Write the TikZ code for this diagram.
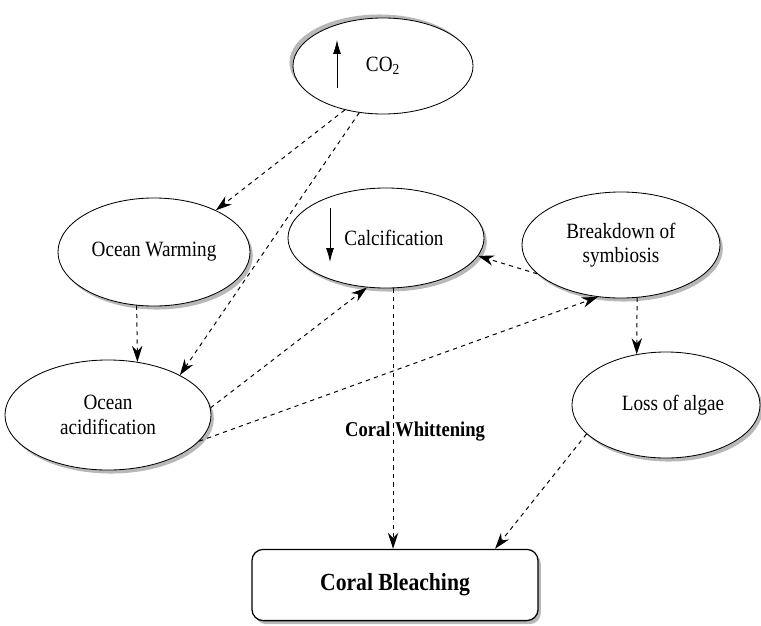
\documentclass[tikz,border=0pt]{standalone}
\usepackage{fontspec}
\setmainfont[FakeStretch=0.88]{Liberation Serif}
\usetikzlibrary{shapes,arrows.meta,shadows}

\begin{document}
\begin{tikzpicture}[x=0.025cm, y=-0.025cm,
    bubble/.style={ellipse, draw, fill=white, line width=0.6pt, align=center, inner sep=0pt, font=\fontsize{15.5}{17.5}\selectfont},
    lowshadow/.style={drop shadow={shadow xshift=2pt, shadow yshift=-2.5pt, fill=black!28, opacity=1}},
    topshadow/.style={drop shadow={shadow xshift=-2.5pt, shadow yshift=2.5pt, fill=black!28, opacity=1}},
    box/.style={rectangle, draw, fill=white, rounded corners=8pt, line width=0.9pt, minimum width=7.15cm, minimum height=1.78cm, font=\bfseries\fontsize{17.5}{20}\selectfont},
    link/.style={-{Stealth[length=4mm, width=2.6mm]}, dashed, line width=0.7pt},
    trend/.style={-{Latex[length=3.5mm, width=2mm]}, line width=0.6pt}]

    \useasboundingbox (0,0) rectangle (761,625);

    % Driver at the top
    \node[bubble, topshadow, minimum width=4.5cm, minimum height=2.4cm] (co2) at (383,66) {CO\textsubscript{2}};
    \draw[trend] ([xshift=-1.15cm, yshift=-0.55cm]co2.center) -- ++(0,1.2cm);

    % Middle row
    \node[bubble, lowshadow, minimum width=4.8cm, minimum height=2.7cm] (warm) at (154,252) {Ocean Warming};
    \node[bubble, lowshadow, minimum width=4.9cm, minimum height=2.5cm] (calc) at (386,238) {\hspace*{0.4cm}Calcification};
    \draw[trend] ([xshift=-1.4cm, yshift=0.75cm]calc.center) -- ++(0,-1.35cm);
    \node[bubble, lowshadow, minimum width=4.95cm, minimum height=2.65cm] (symb) at (621,245) {Breakdown of\\symbiosis};

    % Lower row
    \node[bubble, lowshadow, minimum width=5.15cm, minimum height=2.75cm] (acid) at (108,415) {Ocean\\acidification};
    \node[bubble, lowshadow, minimum width=4.7cm, minimum height=2.65cm] (algae) at (666,405) {\hspace*{0.35cm}Loss of algae};

    % Outcome
    \node[box, lowshadow] (bleach) at (395,585) {Coral Bleaching};

    % Arrows
    \draw[link] (co2.229) -- (warm.34);
    \draw[link] (co2.243) -- (acid.29);
    \draw[link] (warm.252) -- (acid.61);
    \draw[link] (acid.4) -- (calc.249);
    \draw[link] (acid.344) -- (symb.246);
    \draw[link] (symb.199) -- (calc.349);
    \draw[link] (symb.287) -- (algae.120);
    \draw[link] (calc.278) -- (calc.278 |- bleach.north)
        node[pos=0.55, xshift=0.55cm, font=\bfseries\fontsize{15}{17}\selectfont] {Coral Whittening};
    \draw[link] (algae.200) -- ([xshift=2.5cm]bleach.north);

\end{tikzpicture}
\end{document}
